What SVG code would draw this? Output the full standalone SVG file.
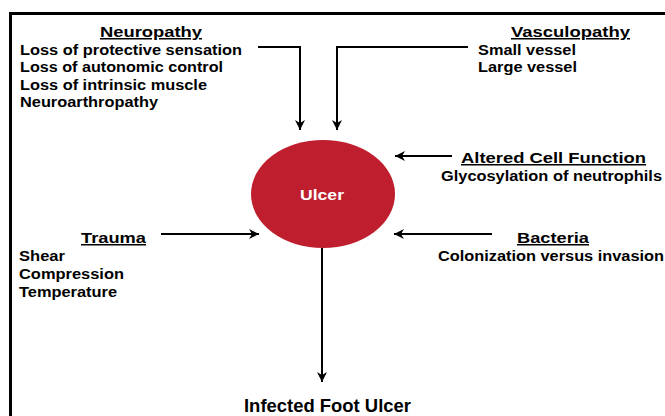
<svg xmlns="http://www.w3.org/2000/svg" width="665" height="416" viewBox="0 0 665 416">
<style>
text{font-family:"Liberation Sans",Arial,sans-serif;font-weight:bold;fill:#000}
.h{font-size:15px;text-decoration:underline}
.b{font-size:14.5px}
.c{fill:none;stroke:#000;stroke-width:2}
</style>
<defs>
<marker id="ah" viewBox="0 0 10 10" refX="10" refY="5" markerWidth="11" markerHeight="10" markerUnits="userSpaceOnUse" orient="auto">
<path d="M0,0 L10,5 L0,10 L3,5 Z" fill="#000"/>
</marker>
</defs>
<rect x="0" y="0" width="665" height="416" fill="#fff"/>
<path d="M10.5,430 L10.5,13.5 L680,13.5" fill="none" stroke="#000" stroke-width="3"/>
<g id="connectors">
<path class="c" d="M258,47 L300,47 L300,130" marker-end="url(#ah)"/>
<path class="c" d="M468,47 L337,47 L337,130" marker-end="url(#ah)"/>
<path class="c" d="M452,156 L395,156" marker-end="url(#ah)"/>
<path class="c" d="M161,234 L259,234" marker-end="url(#ah)"/>
<path class="c" d="M492,234 L394,234" marker-end="url(#ah)"/>
<path class="c" d="M322,248 L322,382" marker-end="url(#ah)"/>
</g>
<g id="ulcer">
<ellipse cx="323" cy="194" rx="72" ry="54" fill="#BE1E2D"/>
<text x="300" y="200" textLength="44" lengthAdjust="spacingAndGlyphs" style="font-size:15px;fill:#fff">Ulcer</text>
</g>
<g id="neuropathy">
<text class="h" x="100" y="37" textLength="102" lengthAdjust="spacingAndGlyphs">Neuropathy</text>
<text class="b" x="20" y="54.5" textLength="222" lengthAdjust="spacingAndGlyphs">Loss of protective sensation</text>
<text class="b" x="20" y="72" textLength="203" lengthAdjust="spacingAndGlyphs">Loss of autonomic control</text>
<text class="b" x="20" y="89.5" textLength="187" lengthAdjust="spacingAndGlyphs">Loss of intrinsic muscle</text>
<text class="b" x="20" y="107" textLength="138" lengthAdjust="spacingAndGlyphs">Neuroarthropathy</text>
</g>
<g id="vasculopathy">
<text class="h" x="511" y="37" textLength="119" lengthAdjust="spacingAndGlyphs">Vasculopathy</text>
<text class="b" x="478" y="54.5" textLength="98" lengthAdjust="spacingAndGlyphs">Small vessel</text>
<text class="b" x="478" y="72" textLength="99" lengthAdjust="spacingAndGlyphs">Large vessel</text>
</g>
<g id="altered">
<text class="h" x="461" y="163" textLength="185" lengthAdjust="spacingAndGlyphs">Altered Cell Function</text>
<text class="b" x="441" y="180.5" textLength="221" lengthAdjust="spacingAndGlyphs">Glycosylation of neutrophils</text>
</g>
<g id="trauma">
<text class="h" x="81" y="243" textLength="65" lengthAdjust="spacingAndGlyphs">Trauma</text>
<text class="b" x="19" y="261" textLength="46" lengthAdjust="spacingAndGlyphs">Shear</text>
<text class="b" x="19" y="279" textLength="105" lengthAdjust="spacingAndGlyphs">Compression</text>
<text class="b" x="19" y="297" textLength="98" lengthAdjust="spacingAndGlyphs">Temperature</text>
</g>
<g id="bacteria">
<text class="h" x="517" y="243" textLength="72" lengthAdjust="spacingAndGlyphs">Bacteria</text>
<text class="b" x="438" y="261" textLength="226" lengthAdjust="spacingAndGlyphs">Colonization versus invasion</text>
</g>
<g id="infected">
<text x="244" y="411.5" textLength="167" lengthAdjust="spacingAndGlyphs" style="font-size:18px">Infected Foot Ulcer</text>
</g>
</svg>
